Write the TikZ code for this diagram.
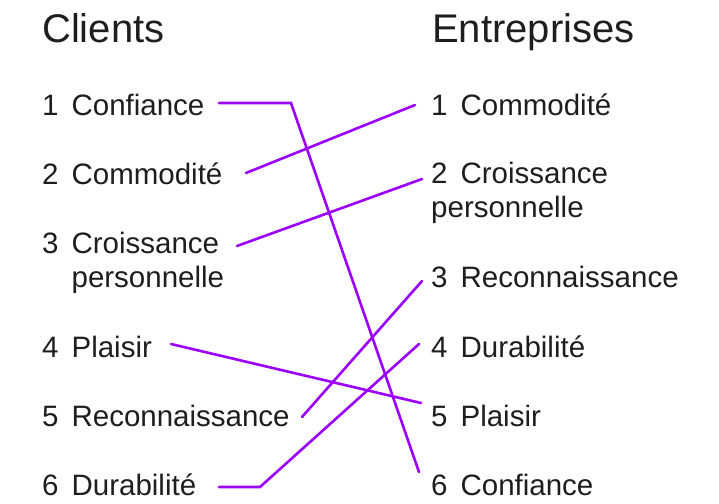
\documentclass[tikz,border=0pt]{standalone}
\usepackage{fontspec}
\setmainfont{Liberation Sans}
\usetikzlibrary{positioning}

\newcommand{\gap}{\hspace{13pt}}

\begin{document}
\begin{tikzpicture}
        [x=1pt, y=-1pt, line cap=round, line join=miter,
        % Styles
        title/.style={anchor=base west, inner sep=0pt, font=\fontsize{40}{48}\selectfont},
        item/.style={anchor=base west, inner sep=0pt, align=left, font=\fontsize{29.5}{33.5}\selectfont},
        link/.style={linkcolor, line width=2.6pt}]

        % Colors
        \definecolor{linkcolor}{RGB}{155,0,255}
        \definecolor{textcolor}{RGB}{30,30,30}

        \useasboundingbox (0,0) rectangle (719,503);

        % Titles
        \node[title, textcolor] (clients) at (42,43) {Clients};
        \node[title, textcolor] (entreprises) at (432,43) {Entreprises};

        % Clients (two-line items sit on the baseline of their last line)
        \node[item, textcolor] (c1) at (42,115) {1\gap Confiance};
        \node[item, textcolor] (c2) at (42,184) {2\gap Commodité};
        \node[item, textcolor] (c3) at (42,287) {3\gap Croissance\\\phantom{3\gap}personnelle};
        \node[item, textcolor] (c4) at (42,357) {4\gap Plaisir};
        \node[item, textcolor] (c5) at (42,426) {5\gap Reconnaissance};
        \node[item, textcolor] (c6) at (42,495) {6\gap Durabilité};

        % Entreprises
        \node[item, textcolor] (e1) at (431,115) {1\gap Commodité};
        \node[item, textcolor] (e2) at (431,217) {2\gap Croissance\\personnelle};
        \node[item, textcolor] (e3) at (431,287) {3\gap Reconnaissance};
        \node[item, textcolor] (e4) at (431,357) {4\gap Durabilité};
        \node[item, textcolor] (e5) at (431,426) {5\gap Plaisir};
        \node[item, textcolor] (e6) at (431,495) {6\gap Confiance};

        % Line ends
        \coordinate (c1 end) at (219,103);
        \coordinate (c2 end) at (246,173);
        \coordinate (c3 end) at (237,246);
        \coordinate (c4 end) at (171,344);
        \coordinate (c5 end) at (302,417);
        \coordinate (c6 end) at (219,487);
        \coordinate (e1 end) at (415,105);
        \coordinate (e2 end) at (422,179);
        \coordinate (e3 end) at (422,281);
        \coordinate (e4 end) at (419,344);
        \coordinate (e5 end) at (421,403);
        \coordinate (e6 end) at (419,472);

        % The links
        \draw[link] (c1 end) -- (291,103) -- (e6 end);
        \draw[link] (c2 end) -- (e1 end);
        \draw[link] (c3 end) -- (e2 end);
        \draw[link] (c4 end) -- (e5 end);
        \draw[link] (c5 end) -- (e3 end);
        \draw[link] (c6 end) -- (260,487) -- (e4 end);
\end{tikzpicture}
\end{document}
